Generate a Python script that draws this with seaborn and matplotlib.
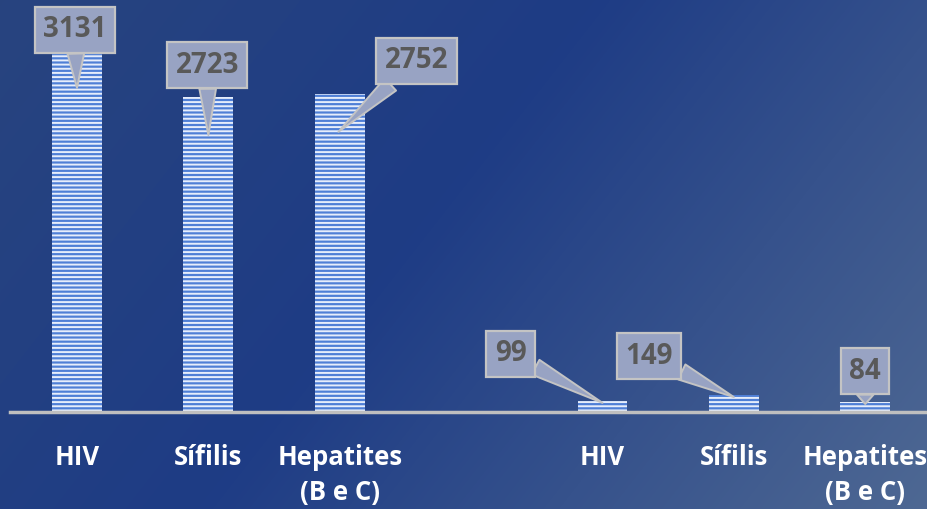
import numpy as np
import pandas as pd
import seaborn as sns
import matplotlib.pyplot as plt
from matplotlib.colors import LinearSegmentedColormap

# data
doencas = ['HIV', 'Sífilis', 'Hepatites\n(B e C)', 'HIV', 'Sífilis', 'Hepatites\n(B e C)']
posicoes = [0, 1, 2, 4, 5, 6]
casos = [3131, 2723, 2752, 99, 149, 84]

# callout placement (styling only)
tip_drop = [330, 330, 330, 20, 20, 15]
tip_dx = [0, 0, -0.01, 0, 0, 0]
box_off = [(-2, 58), (-1, 70), (78, 71), (-92, 49), (-85, 41), (0, 33)]

sns.set_theme(style='white')
plt.rcParams['font.family'] = ['Open Sans', 'DejaVu Sans']
plt.rcParams['hatch.color'] = '#e6edfb'
plt.rcParams['hatch.linewidth'] = 1.4

fig = plt.figure(figsize=(9.27, 5.09), dpi=100)

# gradient background
bg = fig.add_axes([0, 0, 1, 1], zorder=-10)
yy, xx = np.mgrid[0:1:509j, 0:1:927j]
t = np.clip(0.7 * xx + 0.3 * yy, 0, 1)
cmap = LinearSegmentedColormap.from_list('bg', [(0, '#28447f'), (0.45, '#1e3c85'), (1, '#4e6893')])
bg.imshow(t, cmap=cmap, aspect='auto', extent=[0, 1, 0, 1])
bg.axis('off')

ax = fig.add_axes([10 / 927, 97 / 509, 1 - 10 / 927, 1 - 97 / 509])
ax.patch.set_alpha(0)

df = pd.DataFrame({'pos': posicoes, 'casos': casos})
sns.barplot(data=df, x='pos', y='casos', native_scale=True, width=0.38,
            color='#4f7fd6', saturation=1, errorbar=None, ax=ax,
            hatch='----', edgecolor='#e6edfb', linewidth=0)

ax.set_xlim(-0.51, 6.47)
ax.set_ylim(0, 3561)
ax.set_xlabel('')
ax.set_ylabel('')
ax.set_yticks([])
for s in ['left', 'right', 'top']:
    ax.spines[s].set_visible(False)
ax.spines['bottom'].set_color('#bfbfbf')
ax.spines['bottom'].set_linewidth(2.5)

ax.set_xticks(posicoes)
ax.set_xticklabels(doencas, color='white', fontsize=18.5, fontweight='bold')
ax.tick_params(axis='x', length=0, pad=23)
for lbl in ax.get_xticklabels():
    lbl.set_linespacing(1.38)

for i, (p, v) in enumerate(zip(posicoes, casos)):
    ax.annotate(str(v), xy=(p + tip_dx[i], v - tip_drop[i]), xytext=box_off[i],
                textcoords='offset pixels', ha='center', va='center',
                fontsize=20, fontweight='bold', color='#595959',
                bbox=dict(boxstyle='square,pad=0.3', fc='#98a3c3', ec='#c4c4c4', lw=1.6),
                arrowprops=dict(arrowstyle='wedge,tail_width=0.6,shrink_factor=0.5',
                                fc='#98a3c3', ec='#c4c4c4', lw=1.4,
                                shrinkA=0, shrinkB=0))

fig.savefig('out.png', dpi=100)
